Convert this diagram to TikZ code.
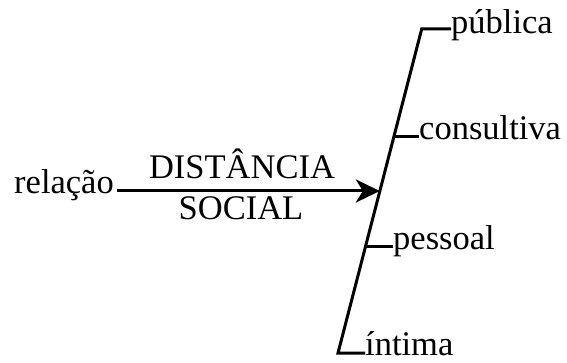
\documentclass[tikz,border=0pt]{standalone}
\usepackage{fontspec}
\setmainfont{Liberation Serif}
\usepackage{tikz}
\usetikzlibrary{positioning, arrows.meta, calc}

\begin{document}
\begin{tikzpicture}[
  x=1pt, y=-1pt,
  lbl/.style={font=\fontsize{34.5}{40}\selectfont, inner sep=0pt, anchor=base west},
  ttl/.style={font=\fontsize{34.5}{40}\selectfont, inner sep=0pt, anchor=base},
  stem/.style={line width=3pt},
  arr/.style={-{Stealth[length=24pt, width=23pt, inset=7pt]}, line width=3pt},
]
\useasboundingbox (0,0) rectangle (567,363);

%% SLANTED SCALE
\coordinate (top) at (421.7, 29);
\coordinate (bot) at (338, 353);
\coordinate (b2)  at ($(top)!0.333!(bot)$);
\coordinate (b3)  at ($(top)!0.672!(bot)$);
\coordinate (tip) at ($(top)!0.5!(bot)$);

\node[lbl] (pub) at (451, 34)  {pública};
\node[lbl] (con) at (419, 140) {consultiva};
\node[lbl] (pes) at (393, 250) {pessoal};
\node[lbl] (int) at (365, 355) {íntima};

\draw[stem] (pub.west |- top) -- (top) -- (bot) -- (int.west |- bot);
\draw[stem] (b2) -- (con.west |- b2);
\draw[stem] (b3) -- (pes.west |- b3);

%% INPUT ARROW
\node[lbl, inner xsep=3pt] (rel) at (11, 194) {relação};
\node[ttl] (dist) at (242, 179) {DISTÂNCIA};
\node[ttl] (soc)  at (241, 220) {SOCIAL};

\draw[arr] (rel.east |- tip) -- (tip);

\end{tikzpicture}
\end{document}
